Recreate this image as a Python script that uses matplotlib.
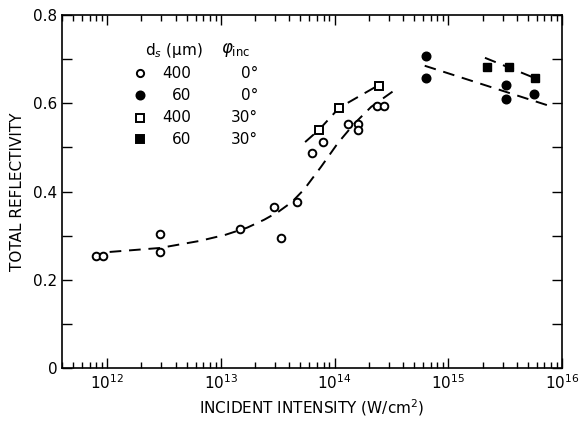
import matplotlib
matplotlib.use("Agg")
import matplotlib.pyplot as plt
from matplotlib.ticker import LogLocator, FixedLocator, NullFormatter

# --- data ---
open_circ_x = [8.0e11, 9.2e11, 2.9e12, 2.9e12, 1.48e13, 2.9e13, 3.4e13, 4.7e13,
               6.3e13, 7.9e13, 1.3e14, 1.6e14, 1.6e14, 2.35e14, 2.7e14]
open_circ_y = [0.254, 0.254, 0.304, 0.263, 0.315, 0.365, 0.295, 0.377,
               0.488, 0.513, 0.553, 0.553, 0.540, 0.594, 0.594]

filled_circ_x = [6.4e14, 6.4e14, 3.2e15, 3.2e15, 5.7e15]
filled_circ_y = [0.708, 0.657, 0.641, 0.610, 0.621]

open_sq_x = [7.3e13, 1.1e14, 2.45e14]
open_sq_y = [0.540, 0.590, 0.639]

filled_sq_x = [2.2e15, 3.4e15, 5.8e15]
filled_sq_y = [0.683, 0.683, 0.657]

# dashed fit curves
fit1_x = [1.05e12, 2.9e12, 6.5e12, 1.1e13, 1.7e13, 2.4e13, 3.2e13, 4.2e13, 5.4e13,
          7.6e13, 1.07e14, 1.48e14, 2.1e14, 3.3e14]
fit1_y = [0.263, 0.272, 0.288, 0.302, 0.318, 0.336, 0.354, 0.376, 0.405,
          0.456, 0.510, 0.553, 0.592, 0.628]
fit2_x = [5.5e13, 7.3e13, 1.1e14, 2.4e14]
fit2_y = [0.512, 0.540, 0.590, 0.640]
fit3_x = [6.2e14, 8.2e15]
fit3_y = [0.685, 0.592]
fit4_x = [2.1e15, 6.3e15]
fit4_y = [0.703, 0.653]

legend_ds = ["400", "60", "400", "60"]
legend_phi = ["0°", "0°", "30°", "30°"]
legend_markers = ["o", "o", "s", "s"]
legend_fill = ["white", "black", "white", "black"]

plt.rcParams['font.family'] = ['DejaVu Sans']

fig = plt.figure(figsize=(5.81, 4.21), dpi=100)
ax = fig.add_axes([62/581, 53/421, 500/581, 353/421])

dash = dict(color='black', lw=1.4, dashes=(6, 4))
for fx_, fy_ in [(fit1_x, fit1_y), (fit2_x, fit2_y), (fit3_x, fit3_y), (fit4_x, fit4_y)]:
    ax.plot(fx_, fy_, **dash)

ms = 5.5
ax.plot(open_circ_x, open_circ_y, 'o', mfc='white', mec='black', mew=1.4, ms=ms, ls='none')
ax.plot(filled_circ_x, filled_circ_y, 'o', mfc='black', mec='black', ms=ms + 0.7, ls='none')
ax.plot(open_sq_x, open_sq_y, 's', mfc='white', mec='black', mew=1.4, ms=ms - 0.3, ls='none')
ax.plot(filled_sq_x, filled_sq_y, 's', mfc='black', mec='black', ms=ms + 0.3, ls='none')

ax.set_xscale('log')
ax.set_xlim(4e11, 1e16)
ax.set_ylim(0, 0.8)

ax.xaxis.set_major_locator(LogLocator(base=10, numticks=10))
ax.xaxis.set_minor_locator(LogLocator(base=10, subs=range(2, 10), numticks=100))
ax.xaxis.set_minor_formatter(NullFormatter())
ax.yaxis.set_major_locator(FixedLocator([0, 0.2, 0.4, 0.6, 0.8]))
ax.yaxis.set_minor_locator(FixedLocator([0.1, 0.3, 0.5, 0.7]))
ax.set_yticklabels(["0", "0.2", "0.4", "0.6", "0.8"])

ax.tick_params(which='both', direction='in', top=True, right=True, labelsize=11, width=1.0)
ax.tick_params(which='major', length=7)
ax.tick_params(which='minor', length=4)
ax.tick_params(axis='y', which='minor', length=7)
for s in ax.spines.values():
    s.set_linewidth(1.2)

ax.set_ylabel("TOTAL REFLECTIVITY", fontsize=11, labelpad=6)
ax.set_xlabel("INCIDENT INTENSITY (W/cm$^2$)", fontsize=11, labelpad=4)

# text legend
def fx(px):
    return (px - 62) / 500
def fy(py):
    return (368 - py) / 353
ax.text(fx(145), fy(50), r"d$_s$ (μm)", transform=ax.transAxes, fontsize=11, va='center', ha='left')
ax.text(fx(221), fy(50), r"$\varphi_{\rm inc}$", transform=ax.transAxes, fontsize=12, va='center', ha='left')
rows = [73, 95, 118, 139]
for r, d, p, m, f in zip(rows, legend_ds, legend_phi, legend_markers, legend_fill):
    ax.plot([fx(140)], [fy(r)], m, mfc=f, mec='black', mew=1.4, ms=ms - 0.3 if f == 'white' else ms + 0.3,
            transform=ax.transAxes, clip_on=False)
    ax.text(fx(191), fy(r), d, transform=ax.transAxes, fontsize=11, va='center', ha='right')
    ax.text(fx(258), fy(r), p, transform=ax.transAxes, fontsize=11, va='center', ha='right')

fig.savefig("out.png", dpi=100)
